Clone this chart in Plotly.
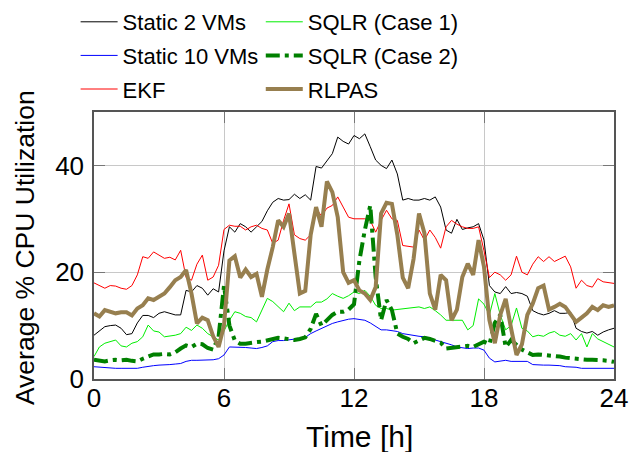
import plotly.graph_objects as go

hours = [i * 0.25 for i in range(97)]

static2 = [
    8.2, 9.0, 9.8, 10.0,
    10.1, 9.5, 8.3, 8.5,
    10.5, 11.9, 11.9, 11.5,
    12.3, 12.6, 12.3, 12.0,
    12.0, 16.6, 16.3, 17.5,
    17.0, 15.7, 16.9, 16.3,
    24.0, 28.5, 27.5, 29.1,
    28.5, 27.5, 28.5, 29.5,
    31.5, 33.1, 33.8, 33.5,
    33.6, 34.6, 33.8, 34.5,
    33.5, 39.8, 39.5, 40.8,
    42.2, 45.3, 44.5, 44.0,
    45.6, 45.0, 45.9, 43.5,
    41.0, 40.0, 39.4, 41.0,
    38.4, 33.5, 33.8, 33.5,
    33.5, 33.8, 33.5, 34.1,
    32.2, 27.9, 27.3, 29.9,
    28.0, 28.3, 28.5, 29.1,
    26.0, 17.5, 16.3, 16.0,
    17.3, 16.0, 16.2, 16.0,
    15.5, 12.8, 12.3, 12.0,
    12.3, 12.8, 12.3, 12.3,
    12.5, 9.5, 8.9, 8.6,
    8.9, 8.2, 8.8, 9.2,
    9.5,
]

static10 = [
    2.3, 2.2, 2.1, 2.1,
    2.0, 2.0, 2.0, 2.0,
    2.0, 2.2, 2.4, 2.5,
    2.6, 2.6, 2.7, 2.8,
    2.9, 3.3, 3.5, 3.5,
    3.5, 3.6, 3.6, 3.8,
    4.5, 6.0, 6.0, 6.0,
    5.9, 5.8, 5.7, 5.9,
    6.2, 7.0, 7.2, 7.2,
    7.3, 7.5, 7.6, 7.8,
    8.5, 9.0, 9.5, 10.0,
    10.4, 10.7, 11.0, 11.2,
    11.3, 11.2, 11.0, 10.5,
    9.8, 9.2, 9.2, 9.0,
    8.9, 8.5, 8.3, 8.1,
    8.0, 7.9, 7.7, 7.3,
    7.0, 6.8, 6.4, 6.0,
    5.9, 5.7, 5.8, 5.8,
    5.4, 3.9, 3.2, 3.4,
    3.5, 3.3, 3.3, 3.4,
    3.3, 2.7, 2.6, 2.6,
    2.6, 2.6, 2.5, 2.3,
    2.3, 2.2, 2.0, 2.0,
    2.0, 2.0, 2.0, 2.0,
    2.0,
]

ekf = [
    18.0, 17.5, 17.0, 17.5,
    17.4, 17.0, 16.8, 17.5,
    19.5, 22.9, 22.6, 23.8,
    23.2, 22.6, 22.8, 22.3,
    24.1, 19.0, 18.5, 21.5,
    23.2, 18.5, 19.1, 21.3,
    28.0, 28.8, 28.6, 28.6,
    27.9, 28.5, 28.8, 28.2,
    27.9, 25.4, 26.0, 29.7,
    32.8, 27.0, 26.3, 26.0,
    27.0, 32.0, 30.5, 32.0,
    32.5, 34.1, 32.2, 30.3,
    30.0, 30.0, 30.0, 29.7,
    27.5, 29.7, 31.6, 30.0,
    29.7, 25.0, 24.8, 24.7,
    27.9, 26.0, 27.9, 26.5,
    24.5, 28.5, 29.7, 29.0,
    28.5, 28.2, 28.2, 28.5,
    24.0, 19.0, 20.0, 19.5,
    18.5, 19.5, 23.0, 20.0,
    19.5, 21.5, 22.9, 22.0,
    22.9, 22.0, 22.5, 23.0,
    21.0, 17.0, 18.5, 17.5,
    17.2, 18.8, 18.2, 18.0,
    17.9,
]

sqlr1 = [
    4.2, 6.0, 6.7, 7.0,
    7.3, 6.2, 6.0, 6.7,
    7.0, 7.9, 10.1, 9.0,
    8.8, 7.9, 8.0, 8.2,
    8.5, 9.7, 9.1, 10.1,
    9.5, 8.5, 7.9, 7.3,
    9.0, 11.0, 12.6, 12.3,
    11.7, 11.5, 10.7, 12.9,
    15.1, 14.5, 13.5, 12.6,
    14.2, 12.8, 13.5, 13.5,
    13.5, 14.4, 14.4, 15.0,
    16.0, 15.5, 15.1, 15.6,
    16.3, 16.0, 16.6, 15.5,
    13.8, 13.2, 13.2, 12.9,
    13.0, 13.2, 13.2, 13.3,
    13.5, 13.2, 13.5, 12.8,
    12.0, 11.0, 11.0, 11.0,
    11.0, 9.2, 10.0, 15.0,
    14.0, 12.0, 16.0, 12.0,
    9.2, 10.0, 13.3, 9.5,
    9.0, 7.9, 8.2, 8.0,
    8.6, 8.9, 8.2, 8.0,
    8.5, 7.3, 8.5, 6.0,
    8.5, 7.5, 7.0, 6.5,
    6.0,
]

sqlr2 = [
    3.6, 3.4, 3.3, 3.5,
    3.6, 3.5, 3.6, 3.4,
    3.3, 3.8, 4.3, 4.6,
    4.6, 4.7, 4.6, 5.0,
    5.7, 6.3, 6.0, 6.6,
    6.5, 5.8, 5.5, 7.9,
    17.5, 10.0, 7.2, 6.6,
    6.6, 6.8, 6.9, 7.0,
    7.2, 7.5, 7.7, 7.6,
    7.5, 7.3, 7.5, 7.8,
    9.4, 12.2, 10.0, 11.0,
    12.0, 12.6, 12.6, 13.0,
    14.0, 22.2, 27.9, 32.5,
    19.1, 11.0, 14.8, 12.9,
    8.5, 7.9, 7.5, 6.7,
    7.2, 7.7, 7.5, 7.2,
    6.8, 5.7, 5.8, 6.0,
    6.0, 6.2, 6.0, 6.5,
    7.0, 6.5, 10.5, 12.0,
    6.0, 7.3, 6.5, 5.5,
    5.0, 4.5, 4.6, 4.5,
    4.5, 4.3, 4.2, 4.0,
    3.9, 3.8, 3.6, 3.6,
    3.6, 3.6, 3.5, 3.4,
    3.2,
]

rlpas = [
    12.3, 11.7, 12.9, 12.6,
    12.3, 12.5, 12.5, 11.9,
    13.2, 13.8, 15.1, 14.8,
    15.5, 16.0, 17.2, 18.5,
    19.1, 20.4, 16.0, 10.4,
    11.5, 11.0, 8.0, 6.0,
    10.0, 22.2, 23.0, 19.0,
    20.5, 19.1, 19.7, 15.4,
    20.5, 24.7, 29.7, 28.5,
    31.0, 23.5, 16.0, 16.5,
    27.0, 32.2, 28.5, 37.0,
    35.0, 30.3, 20.0, 18.0,
    18.5, 16.6, 16.0, 14.8,
    17.2, 31.0, 33.0, 32.8,
    27.0, 19.0, 17.0, 22.5,
    31.0, 27.3, 16.0, 13.0,
    19.5, 18.5, 11.0, 13.0,
    19.1, 21.6, 19.5, 26.0,
    21.0, 11.0, 6.7, 12.0,
    15.0, 9.5, 4.5, 6.5,
    12.0, 14.1, 17.0, 17.5,
    13.0, 13.5, 14.1, 13.5,
    12.0, 10.7, 11.5, 12.3,
    13.5, 12.9, 13.8, 13.5,
    13.8,
]

x_ticks = [0, 6, 12, 18, 24]
y_ticks = [0, 20, 40]
x_title = "Time [h]"
y_title = "Average % CPU Utilization"

FONT = "Arial, Liberation Sans, sans-serif"

series = [
    ("Static 2 VMs", static2, "#000000", 1, "solid", "legend"),
    ("Static 10 VMs", static10, "#0000ff", 1, "solid", "legend"),
    ("EKF", ekf, "#ff0000", 1, "solid", "legend"),
    ("SQLR (Case 1)", sqlr1, "#00ee00", 1, "solid", "legend2"),
    ("SQLR (Case 2)", sqlr2, "#008000", 4, "14px,5px,4px,5px", "legend2"),
    ("RLPAS", rlpas, "#977f4f", 4, "solid", "legend2"),
]

fig = go.Figure()
for name, vals, color, w, dash, lg in series:
    fig.add_trace(go.Scatter(
        x=hours, y=vals, mode="lines", name=name,
        line=dict(color=color, width=w, dash=dash),
        legend=lg, legendgroup=name,
    ))

legend_common = dict(
    orientation="v", xref="container", yref="paper",
    yanchor="top", xanchor="left",
    font=dict(family=FONT, size=22, color="#000"),
    bgcolor="rgba(0,0,0,0)", itemwidth=37, tracegroupgap=2,
)

fig.update_layout(
    width=644, height=452,
    margin=dict(l=86, r=38, t=104, b=81, autoexpand=False),
    paper_bgcolor="white", plot_bgcolor="white",
    font=dict(family=FONT, color="#000"),
    legend=dict(x=0.105, y=1.4157, **legend_common),
    legend2=dict(x=0.3925, y=1.4157, **legend_common),
    annotations=[
        dict(text=x_title, xref="paper", yref="paper", x=0.5106, y=-0.2169,
             xanchor="center", yanchor="middle", showarrow=False,
             font=dict(family=FONT, size=30, color="#000")),
        dict(text=y_title, xref="paper", yref="paper", x=-0.1337, y=0.4921,
             xanchor="center", yanchor="middle", showarrow=False, textangle=-90,
             font=dict(family=FONT, size=26.5, color="#000")),
    ],
)

fig.update_xaxes(
    range=[0, 24], tickvals=x_ticks, ticktext=[str(v) for v in x_ticks],
    showgrid=True, gridcolor="#c8c8c8", gridwidth=1,
    showline=True, linecolor="#555555", linewidth=1.5, mirror="allticks",
    ticks="inside", ticklen=11, tickcolor="#777777",
    tickfont=dict(family=FONT, size=26, color="#000"),
    ticklabelstandoff=-5,
    zeroline=False,
)
fig.update_yaxes(
    range=[0, 50], tickvals=y_ticks, ticktext=[str(v) for v in y_ticks],
    showgrid=True, gridcolor="#c8c8c8", gridwidth=1,
    showline=True, linecolor="#555555", linewidth=1.5, mirror="allticks",
    ticks="inside", ticklen=11, tickcolor="#777777",
    tickfont=dict(family=FONT, size=26, color="#000"),
    ticklabelstandoff=3,
    zeroline=False,
)

fig.write_html("out.html")
